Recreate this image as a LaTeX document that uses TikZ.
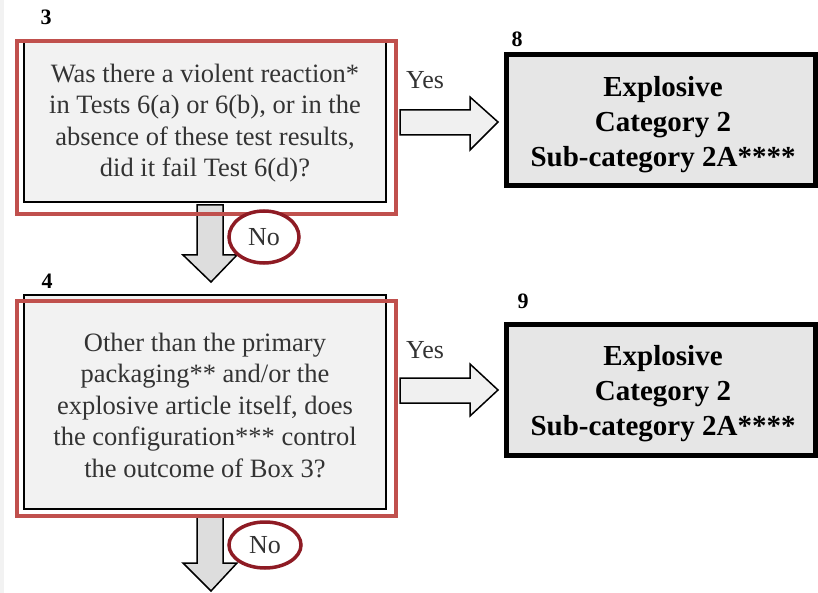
\documentclass[tikz,border=0pt]{standalone}
\usepackage{fontspec}
\setmainfont{Liberation Serif}
\usetikzlibrary{shapes.geometric}
\definecolor{boxq}{HTML}{F2F2F2}
\definecolor{boxr}{HTML}{E6E6E6}
\definecolor{hlred}{HTML}{C0504D}
\definecolor{nored}{HTML}{8E1B24}
\definecolor{textgray}{HTML}{333333}
\definecolor{downfill}{HTML}{DDDDDD}
\definecolor{rightfill}{HTML}{F0F0F0}
\begin{document}
\begin{tikzpicture}[x=1pt,y=-1pt,
  qbox/.style={draw=black,line width=2.5pt,fill=boxq,rectangle,inner sep=0pt},
  rbox/.style={draw=black,line width=4.5pt,fill=boxr,rectangle,inner sep=0pt},
  hl/.style={draw=hlred,line width=4.5pt},
  barrow/.style={draw=black,line width=1.5pt,line join=miter},
  qtext/.style={font=\fontsize{26.5}{31.5}\selectfont,align=center,text=textgray},
  rtext/.style={font=\fontsize{29}{35}\selectfont\bfseries,align=center},
  num/.style={font=\fontsize{22}{22}\selectfont\bfseries,inner sep=0pt},
  lbl/.style={font=\fontsize{26}{28}\selectfont,text=textgray,inner sep=0pt},
  noell/.style={ellipse,draw=nored,line width=3.5pt,fill=white,inner sep=0pt,
    font=\fontsize{26}{28}\selectfont,text=textgray}]
\useasboundingbox (0,0) rectangle (818,593);
\fill[white] (0,0) rectangle (818,593);
\fill[boxq] (0,0) rectangle (4,593);

% numbers
\node[num] (n3) at (46,17) {3};
\node[num] (n4) at (47,281) {4};
\node[num] (n8) at (517,39) {8};
\node[num] (n9) at (523,301) {9};

% down arrows (drawn before boxes so their tops hide under the frames)
\draw[barrow,fill=downfill] (197,205) -- (223,205) -- (223,255) -- (237,255) -- (211,282) -- (183,255) -- (197,255) -- cycle;
\draw[barrow,fill=downfill] (197,515) -- (223,515) -- (223,563) -- (237,563) -- (211,591) -- (183,563) -- (197,563) -- cycle;

% question boxes
\node[qbox,minimum width=362pt,minimum height=160pt] (b3) at (205,122) {};
\node[qtext] (t3) at (205,123) {Was there a violent reaction*\\in Tests 6(a) or 6(b), or in the\\absence of these test results,\\did it fail Test 6(d)?};
\node[qbox,minimum width=362pt,minimum height=214pt] (b4) at (205,402) {};
\node[qtext] (t4) at (205,405) {Other than the primary\\packaging** and/or the\\explosive article itself, does\\the configuration*** control\\the outcome of Box 3?};

% red highlight frames
\draw[hl] (17,41) rectangle (396,214);
\draw[hl] (17,301) rectangle (396,516);

% result boxes
\node[rbox,minimum width=309pt,minimum height=131pt] (b8) at (661,120) {};
\node[rtext] (t8) at (663,125) {Explosive\\Category 2\\Sub-category 2A****};
\node[rbox,minimum width=309pt,minimum height=131pt] (b9) at (661,390) {};
\node[rtext] (t9) at (663,394) {Explosive\\Category 2\\Sub-category 2A****};

% yes arrows
\draw[barrow,fill=rightfill] (400,110) -- (470,110) -- (470,97) -- (498,122) -- (470,150) -- (470,135) -- (400,135) -- cycle;
\draw[barrow,fill=rightfill] (400,378) -- (470,378) -- (470,364) -- (498,390) -- (470,416) -- (470,403) -- (400,403) -- cycle;
\node[lbl] (y1) at (425,80) {Yes};
\node[lbl] (y2) at (425,350) {Yes};

% no ellipses
\node[noell,minimum width=70pt,minimum height=52pt] (no1) at (264,237) {No};
\node[noell,minimum width=72pt,minimum height=46pt] (no2) at (265,545) {No};
\end{tikzpicture}
\end{document}
